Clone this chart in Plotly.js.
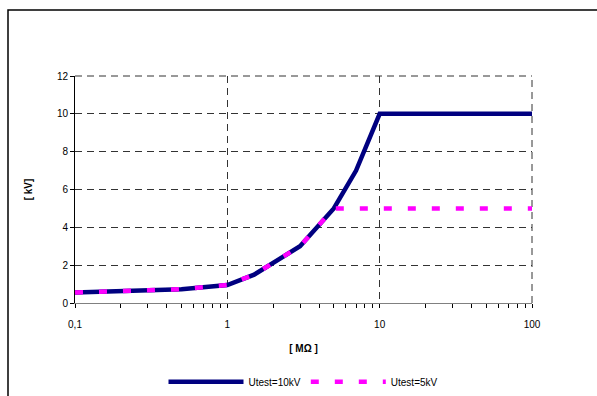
<!DOCTYPE html>
<html>
<head>
<meta charset="utf-8">
<script src="https://cdn.plot.ly/plotly-3.0.1.min.js"></script>
<style>html,body{margin:0;padding:0;background:#fff;}#chart{width:597px;height:396px;}</style>
</head>
<body>
<div id="chart"></div>
<script>
// Data
const resistance10 = [0.1, 0.2, 0.5, 1, 1.5, 3, 5, 7, 10, 100];
const voltage10    = [0.55, 0.62, 0.73, 0.95, 1.5, 3, 5, 7, 10, 10];
const resistance5  = [0.1, 0.2, 0.5, 1, 1.5, 3, 5, 7, 10, 100];
const voltage5     = [0.55, 0.62, 0.73, 0.95, 1.5, 3, 5, 5, 5, 5];
const seriesNames  = ["Utest=10kV", "Utest=5kV"];
const xTickVals    = [0.1, 1, 10, 100];
const xTickText    = ["0,1", "1", "10", "100"];
const xMinorVals   = [0.2,0.3,0.4,0.5,0.6,0.7,0.8,0.9,2,3,4,5,6,7,8,9,20,30,40,50,60,70,80,90];
const yTickVals    = [0, 2, 4, 6, 8, 10, 12];

const font = "Liberation Sans, Arial, sans-serif";
const traces = [
  {x: resistance10, y: voltage10, name: seriesNames[0], mode: "lines",
   line: {color: "#000080", width: 4.5}},
  {x: resistance5, y: voltage5, name: seriesNames[1], mode: "lines",
   line: {color: "#FF00FF", width: 4.5, dash: "8px,16px"}},
  // carrier for the tick-mark axis (draws nothing)
  {x: resistance10, y: voltage10, xaxis: "x2", mode: "lines", showlegend: false,
   hoverinfo: "skip", line: {width: 0, color: "rgba(0,0,0,0)"}}
];
const gridStyle = {color: "#333", width: 1, dash: "7px,5px"};
const layout = {
  width: 597, height: 396,
  margin: {l: 75, r: 65, t: 76, b: 93},
  paper_bgcolor: "#fff", plot_bgcolor: "#fff",
  font: {family: font, size: 10, color: "#000"},
  showlegend: true,
  legend: {orientation: "h", xref: "paper", x: 0.5, xanchor: "center",
           yref: "container", y: 0.036, yanchor: "middle",
           itemwidth: 75, font: {size: 10}, traceorder: "normal"},
  xaxis: {type: "log", range: [-1, 2], tickmode: "array", tickvals: xTickVals, ticktext: xTickText,
          automargin: false,
          ticks: "outside", ticklen: 12, tickcolor: "rgba(0,0,0,0)", tickwidth: 1,
          showline: true, linecolor: "#808080", linewidth: 1,
          showgrid: true, gridcolor: "#333", griddash: "7px,5px", gridwidth: 1,
          zeroline: false,
          title: {text: "[ MΩ ]", font: {size: 10, family: font, weight: "bold"}, standoff: 15}},
  xaxis2: {type: "log", range: [-1, 2], overlaying: "x", anchor: "y", side: "bottom",
           tickmode: "array", tickvals: xTickVals.concat(xMinorVals), showticklabels: false, automargin: false,
           ticks: "outside", ticklen: 4, tickcolor: "#000000", tickwidth: 1,
           showline: false, showgrid: false, zeroline: false},
  yaxis: {range: [0, 12], tickmode: "array", tickvals: yTickVals, automargin: false,
          ticks: "outside", ticklen: 4, tickcolor: "#000000", tickwidth: 1,
          showline: true, linecolor: "#000", linewidth: 1,
          showgrid: true, gridcolor: "#333", griddash: "7px,5px", gridwidth: 1,
          zeroline: false,
          title: {text: "[ kV]", font: {size: 10, family: font, weight: "bold"}, standoff: 22}},
  shapes: [
    {type: "rect", xref: "paper", yref: "paper",
     x0: -0.1466, x1: 1.2, y0: -0.5, y1: 1.2907,
     line: {color: "#000", width: 1.5}, fillcolor: "rgba(0,0,0,0)", layer: "below"},
    {type: "line", xref: "paper", yref: "paper", x0: 0, x1: 1, y0: 1, y1: 1,
     line: gridStyle, layer: "below"},
    {type: "line", xref: "paper", yref: "paper", x0: 1, x1: 1, y0: 0, y1: 1,
     line: gridStyle, layer: "below"}
  ]
};
Plotly.newPlot("chart", traces, layout, {displayModeBar: false, staticPlot: true});
</script>
</body>
</html>
